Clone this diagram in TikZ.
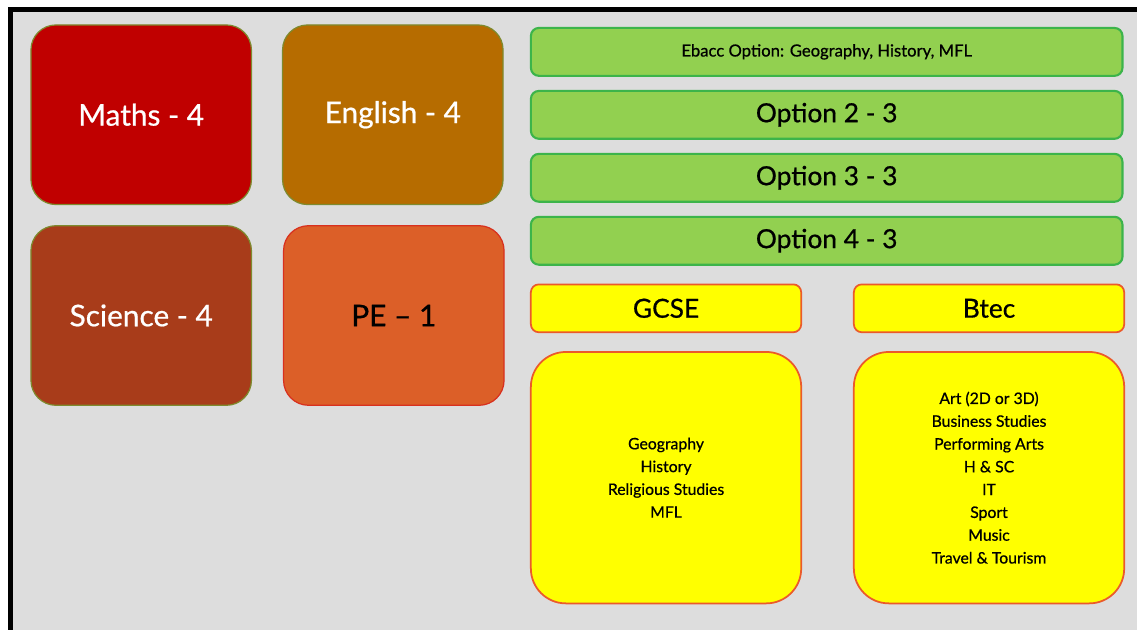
\documentclass[tikz,border=0pt]{standalone}
\usepackage{fontspec}
\setmainfont{Lato}[UprightFeatures={FakeBold=0.7}]
\usepackage{xcolor}
\usetikzlibrary{positioning}

\definecolor{panelgrey}{HTML}{DDDDDD}
\definecolor{mathsred}{HTML}{C00000}
\definecolor{englishbrown}{HTML}{B66C00}
\definecolor{sciencerust}{HTML}{A83C1A}
\definecolor{peorange}{HTML}{DC5F28}
\definecolor{oliveedge}{HTML}{7E8A2E}
\definecolor{redge}{HTML}{D8301E}
\definecolor{optgreen}{HTML}{92D050}
\definecolor{greenedge}{HTML}{3CB44A}
\definecolor{routeedge}{HTML}{EB5A2A}
\definecolor{routeyellow}{HTML}{FFFF00}

\tikzset{
  subject/.style={draw=oliveedge, rectangle, rounded corners=0.5cm, line width=0.7pt,
    minimum width=4.42cm, minimum height=3.6cm, text=white, font=\fontsize{17}{20}\selectfont},
  optbar/.style={draw=greenedge, fill=optgreen, rectangle, rounded corners=0.16cm, line width=1.2pt,
    minimum width=11.86cm, minimum height=0.96cm, font=\fontsize{15}{18}\selectfont},
  routehead/.style={draw=routeedge, fill=routeyellow, rectangle, rounded corners=0.16cm, line width=1pt,
    minimum width=5.42cm, minimum height=0.96cm, font=\fontsize{15}{18}\selectfont},
  routelist/.style={draw=routeedge, fill=routeyellow, rectangle, rounded corners=0.7cm, line width=1pt,
    minimum width=5.42cm, minimum height=5.04cm, align=center, font=\fontsize{9}{13}\selectfont}
}

\begin{document}
\begin{tikzpicture}[x=0.02cm, y=-0.02cm]
    % frame
    \fill [white] (0,0) rectangle (1139,631);
    \fill [panelgrey] (10.5,9.5) rectangle (1139,631);
    \draw [line width=0.1cm] (10.5,631) -- (10.5,9.5) -- (1139,9.5);

    % Core subjects
    \node [subject, fill=mathsred] (maths) at (141.5,115) {Maths - 4};
    \node [subject, fill=englishbrown, right=0.6cm of maths] (english) {English - 4};
    \node [subject, fill=sciencerust, below=0.4cm of maths] (science) {Science - 4};
    \node [subject, fill=peorange, draw=redge, text=black, right=0.62cm of science] (pe) {PE -- 1};

    % Option blocks
    \node [optbar, font=\fontsize{9.5}{11}\selectfont] (ebacc) at (828.5,52) {Ebacc Option: Geography, History, MFL};
    \node [optbar, below=0.26cm of ebacc] (opt2) {Option 2 - 3};
    \node [optbar, below=0.26cm of opt2] (opt3) {Option 3 - 3};
    \node [optbar, below=0.26cm of opt3] (opt4) {Option 4 - 3};

    % Routes
    \node [routehead] (gcse) at (667.5,309) {GCSE};
    \node [routehead, right=1.02cm of gcse] (btec) {Btec};
    \node [routelist, below=0.36cm of gcse] (gcselist) {Geography\\History\\Religious Studies\\MFL};
    \node [routelist, below=0.36cm of btec] (bteclist) {Art (2D or 3D)\\Business Studies\\Performing Arts\\H \& SC\\IT\\Sport\\Music\\Travel \& Tourism};
\end{tikzpicture}
\end{document}
